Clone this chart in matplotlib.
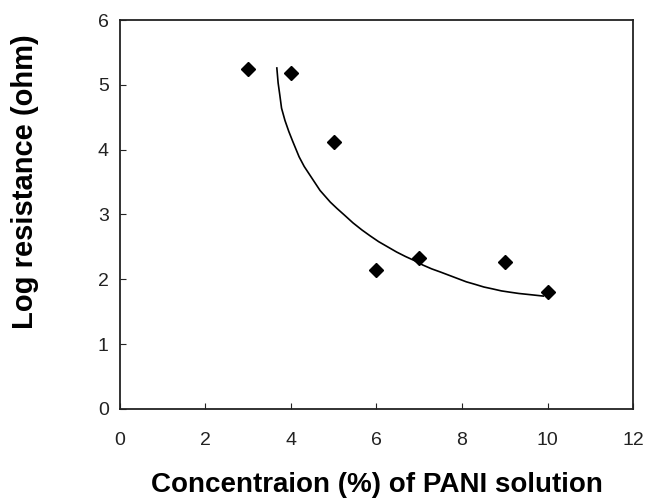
import matplotlib
matplotlib.use("Agg")
import matplotlib.pyplot as plt

plt.rcParams['font.family'] = ['Liberation Sans', 'DejaVu Sans']

# measured points
conc = [3, 4, 5, 6, 7, 9, 10]
log_res = [5.24, 5.18, 4.12, 2.14, 2.32, 2.26, 1.81]

# trend curve
curve_x = [3.67, 3.70, 3.74, 3.78, 3.86, 3.95, 4.04, 4.19, 4.31, 4.44, 4.56,
           4.68, 4.80, 4.92, 5.08, 5.25, 5.45, 5.66, 5.85, 6.05, 6.26, 6.47,
           6.68, 6.88, 7.08, 7.29, 7.50, 7.70, 7.90, 8.10, 8.31, 8.51, 8.72,
           8.92, 9.12, 9.33, 9.62, 9.90]
curve_y = [5.26, 5.03, 4.84, 4.64, 4.45, 4.28, 4.13, 3.89, 3.74, 3.61, 3.49,
           3.37, 3.28, 3.19, 3.09, 2.99, 2.87, 2.76, 2.67, 2.58, 2.50, 2.42,
           2.35, 2.29, 2.22, 2.16, 2.11, 2.06, 2.01, 1.96, 1.92, 1.88, 1.85,
           1.82, 1.80, 1.78, 1.76, 1.74]

xticks = [0, 2, 4, 6, 8, 10, 12]
yticks = [0, 1, 2, 3, 4, 5, 6]

px = 1 / 100
fig = plt.figure(figsize=(648 * px, 501 * px), dpi=100)
ax = fig.add_axes([0.185, 0.184, 0.792, 0.776])

ax.plot(curve_x, curve_y, color='black', linewidth=1.2)
ax.plot(conc, log_res, linestyle='none', marker='D', markersize=7.5,
        color='black')

ax.set_xlim(0, 12)
ax.set_ylim(0, 6)
ax.set_xticks(xticks)
ax.set_yticks(yticks)
ax.tick_params(direction='in', length=4, width=0.8, labelsize=14,
               colors='#222222')
ax.tick_params(axis='x', pad=17)
ax.tick_params(axis='y', pad=8)
for s in ax.spines.values():
    s.set_linewidth(1.3)
    s.set_color('#222222')

ax.set_xlabel('Concentraion (%) of PANI solution', fontsize=20,
              fontweight='bold')
ax.set_ylabel('Log resistance (ohm)', fontsize=21, fontweight='bold')
ax.xaxis.set_label_coords(0.5, -0.162)
ax.yaxis.set_label_coords(-0.158, 0.584)

fig.savefig('out.png', dpi=100)
